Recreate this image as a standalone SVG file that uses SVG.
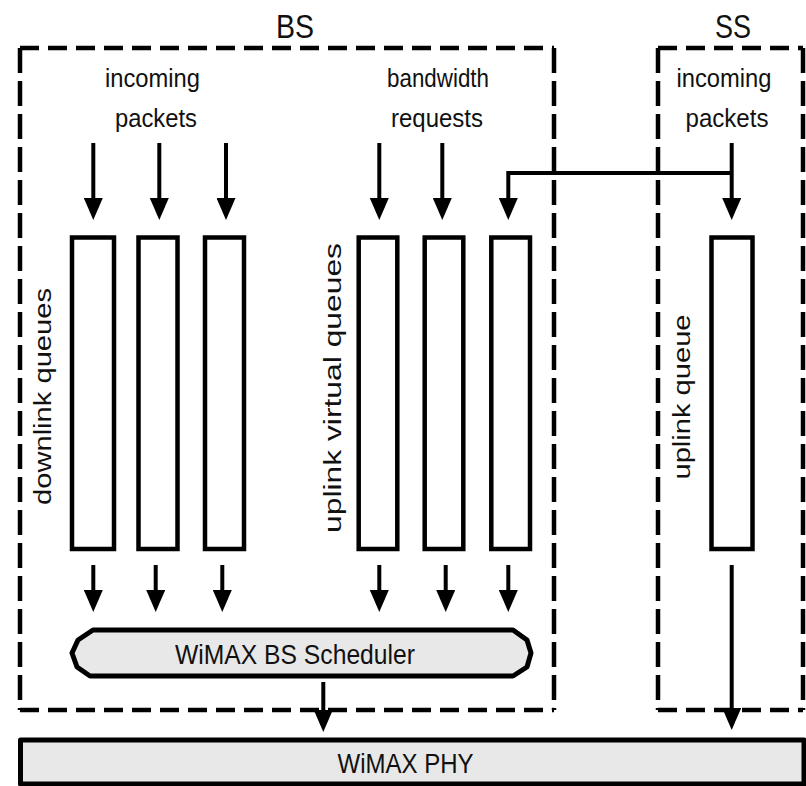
<svg xmlns="http://www.w3.org/2000/svg" width="806" height="786" viewBox="0 0 806 786">
<style>
text{font-family:"Liberation Sans",Arial,sans-serif;fill:#111;}
.lbl{font-size:26px;text-anchor:middle;}
.title{font-size:34px;text-anchor:middle;}
.vlbl{font-size:23px;text-anchor:middle;}
.box{fill:none;stroke:#000;stroke-width:4.5;}
.dh{stroke-dasharray:19 9;}
.dv{stroke-dasharray:25 8;}
.queue{fill:#fff;stroke:#000;stroke-width:4.5;}
.shade{fill:#e8e8e8;stroke:#000;stroke-width:5;stroke-linejoin:round;}
.conn{fill:none;stroke:#000;stroke-width:4;}
</style>
<defs>
<marker id="ah" viewBox="0 0 22 19" refX="10" refY="9.5" markerWidth="22" markerHeight="19" markerUnits="userSpaceOnUse" orient="auto">
<path d="M0,0 L22,9.5 L0,19 Z" fill="#000"/>
</marker>
</defs>

<g id="bs-box">
<line class="box dh" x1="20" y1="48" x2="554" y2="48"/>
<line class="box dh" x1="20" y1="710" x2="554" y2="710"/>
<line class="box dv" x1="20" y1="48" x2="20" y2="710"/>
<line class="box dv" x1="554" y1="48" x2="554" y2="710"/>
<text class="title" x="295" y="38" textLength="38" lengthAdjust="spacingAndGlyphs">BS</text>
</g>

<g id="ss-box">
<line class="box dh" x1="658" y1="48" x2="803" y2="48"/>
<line class="box dh" x1="658" y1="710" x2="803" y2="710"/>
<line class="box dv" x1="658" y1="48" x2="658" y2="710"/>
<line class="box dv" x1="803" y1="48" x2="803" y2="710"/>
<text class="title" x="733" y="38" textLength="36" lengthAdjust="spacingAndGlyphs">SS</text>
</g>

<g id="labels">
<text class="lbl" x="152.5" y="87" textLength="95" lengthAdjust="spacingAndGlyphs">incoming</text>
<text class="lbl" x="156" y="127" textLength="82" lengthAdjust="spacingAndGlyphs">packets</text>
<text class="lbl" x="438" y="87" textLength="102" lengthAdjust="spacingAndGlyphs">bandwidth</text>
<text class="lbl" x="437" y="127" textLength="92" lengthAdjust="spacingAndGlyphs">requests</text>
<text class="lbl" x="724" y="87" textLength="95" lengthAdjust="spacingAndGlyphs">incoming</text>
<text class="lbl" x="727" y="127" textLength="83" lengthAdjust="spacingAndGlyphs">packets</text>
<text class="vlbl" transform="translate(51,396.5) rotate(-90)" textLength="217" lengthAdjust="spacingAndGlyphs">downlink queues</text>
<text class="vlbl" transform="translate(341,388) rotate(-90)" textLength="290" lengthAdjust="spacingAndGlyphs">uplink virtual queues</text>
<text class="vlbl" transform="translate(690,397) rotate(-90)" textLength="165" lengthAdjust="spacingAndGlyphs">uplink queue</text>
</g>

<g id="downlink-queues">
<rect id="dq1" class="queue" x="72" y="237.5" width="42" height="311.5"/>
<rect id="dq2" class="queue" x="138.5" y="237.5" width="39" height="311.5"/>
<rect id="dq3" class="queue" x="205" y="237.5" width="39" height="311.5"/>
</g>

<g id="uplink-virtual-queues">
<rect id="uq1" class="queue" x="358.7" y="237.5" width="38.6" height="311.5"/>
<rect id="uq2" class="queue" x="424.7" y="237.5" width="38.6" height="311.5"/>
<rect id="uq3" class="queue" x="491.3" y="237.5" width="38.7" height="311.5"/>
</g>

<g id="ss-uplink-queue">
<rect class="queue" x="711.5" y="237.5" width="41" height="311.5"/>
</g>

<g id="scheduler">
<path class="shade" d="M93,630 L513,630 L527,640 L531,653 L527,667 L513,676 L90,676 L77,667 L72,653 L78,640 Z"/>
<text x="295" y="664" font-size="28" text-anchor="middle" textLength="240" lengthAdjust="spacingAndGlyphs">WiMAX BS Scheduler</text>
</g>

<g id="phy">
<rect class="shade" x="20.5" y="740" width="783.5" height="44" stroke-linejoin="miter"/>
<text x="405.5" y="773" font-size="28" text-anchor="middle" textLength="136" lengthAdjust="spacingAndGlyphs">WiMAX PHY</text>
</g>

<g id="connectors">
<line class="conn" x1="93.3" y1="143" x2="93.3" y2="208" marker-end="url(#ah)"/>
<line class="conn" x1="159.3" y1="143" x2="159.3" y2="208" marker-end="url(#ah)"/>
<line class="conn" x1="226" y1="143" x2="226" y2="208" marker-end="url(#ah)"/>
<line class="conn" x1="379.3" y1="143" x2="379.3" y2="208" marker-end="url(#ah)"/>
<line class="conn" x1="442.3" y1="143" x2="442.3" y2="208" marker-end="url(#ah)"/>
<path class="conn" d="M733,173 H508.3 V208" marker-end="url(#ah)"/>
<line class="conn" x1="731.7" y1="143" x2="731.7" y2="208" marker-end="url(#ah)"/>

<line class="conn" x1="93.3" y1="565" x2="93.3" y2="600" marker-end="url(#ah)"/>
<line class="conn" x1="155.7" y1="565" x2="155.7" y2="600" marker-end="url(#ah)"/>
<line class="conn" x1="222.3" y1="565" x2="222.3" y2="600" marker-end="url(#ah)"/>
<line class="conn" x1="379.3" y1="565" x2="379.3" y2="600" marker-end="url(#ah)"/>
<line class="conn" x1="445.7" y1="565" x2="445.7" y2="600" marker-end="url(#ah)"/>
<line class="conn" x1="508.3" y1="565" x2="508.3" y2="600" marker-end="url(#ah)"/>

<line class="conn" x1="323.3" y1="682" x2="323.3" y2="720" marker-end="url(#ah)"/>
<line class="conn" x1="731.7" y1="565" x2="731.7" y2="718" marker-end="url(#ah)"/>
</g>
</svg>
